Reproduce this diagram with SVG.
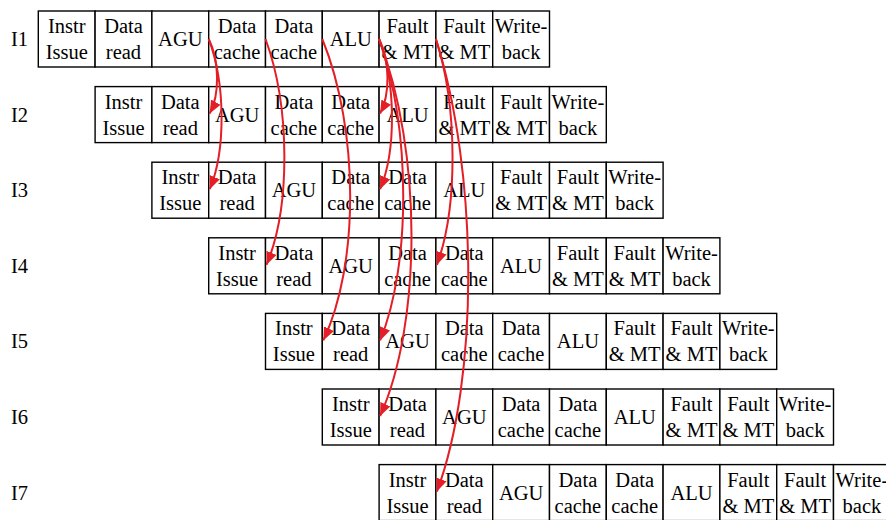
<svg xmlns="http://www.w3.org/2000/svg" width="886" height="520" viewBox="0 0 886 520">
<defs>
<style>
.cell{fill:#fff;stroke:#000;stroke-width:1.4}
text{font-family:"Liberation Serif","Times New Roman",serif;font-size:20.5px;fill:#000}
.t{text-anchor:middle}
.arr{fill:none;stroke:#e41e26;stroke-width:2}
</style>
<marker id="ah" markerUnits="userSpaceOnUse" markerWidth="14" markerHeight="12" refX="13" refY="5.5" orient="auto" viewBox="0 0 14 12">
<path d="M0,0 L13,5.5 L0,11 z" fill="#e41e26"/>
</marker>
</defs>
<rect width="886" height="520" fill="#fff"/>
<g id="labels">
<text x="11" y="46">I1</text>
<text x="11" y="121.6">I2</text>
<text x="11" y="197.2">I3</text>
<text x="11" y="272.8">I4</text>
<text x="11" y="348.4">I5</text>
<text x="11" y="424">I6</text>
<text x="11" y="499.6">I7</text>
</g>
<g id="row1" transform="translate(38.3,11)">
<g id="r1c1" transform="translate(0,0)"><rect class="cell" width="56.8" height="56"/><text class="t" x="28.4" y="22">Instr</text><text class="t" x="28.4" y="48">Issue</text></g>
<g id="r1c2" transform="translate(56.8,0)"><rect class="cell" width="56.8" height="56"/><text class="t" x="28.4" y="22">Data</text><text class="t" x="28.4" y="48">read</text></g>
<g id="r1c3" transform="translate(113.6,0)"><rect class="cell" width="56.8" height="56"/><text class="t" x="28.4" y="35">AGU</text></g>
<g id="r1c4" transform="translate(170.4,0)"><rect class="cell" width="56.8" height="56"/><text class="t" x="28.4" y="22">Data</text><text class="t" x="28.4" y="48">cache</text></g>
<g id="r1c5" transform="translate(227.2,0)"><rect class="cell" width="56.8" height="56"/><text class="t" x="28.4" y="22">Data</text><text class="t" x="28.4" y="48">cache</text></g>
<g id="r1c6" transform="translate(284,0)"><rect class="cell" width="56.8" height="56"/><text class="t" x="28.4" y="35">ALU</text></g>
<g id="r1c7" transform="translate(340.8,0)"><rect class="cell" width="56.8" height="56"/><text class="t" x="28.4" y="22">Fault</text><text class="t" x="28.4" y="48">&amp; MT</text></g>
<g id="r1c8" transform="translate(397.6,0)"><rect class="cell" width="56.8" height="56"/><text class="t" x="28.4" y="22">Fault</text><text class="t" x="28.4" y="48">&amp; MT</text></g>
<g id="r1c9" transform="translate(454.4,0)"><rect class="cell" width="56.8" height="56"/><text class="t" x="28.4" y="22">Write-</text><text class="t" x="28.4" y="48">back</text></g>
</g>
<g id="row2" transform="translate(95.1,86.6)">
<g id="r2c1" transform="translate(0,0)"><rect class="cell" width="56.8" height="56"/><text class="t" x="28.4" y="22">Instr</text><text class="t" x="28.4" y="48">Issue</text></g>
<g id="r2c2" transform="translate(56.8,0)"><rect class="cell" width="56.8" height="56"/><text class="t" x="28.4" y="22">Data</text><text class="t" x="28.4" y="48">read</text></g>
<g id="r2c3" transform="translate(113.6,0)"><rect class="cell" width="56.8" height="56"/><text class="t" x="28.4" y="35">AGU</text></g>
<g id="r2c4" transform="translate(170.4,0)"><rect class="cell" width="56.8" height="56"/><text class="t" x="28.4" y="22">Data</text><text class="t" x="28.4" y="48">cache</text></g>
<g id="r2c5" transform="translate(227.2,0)"><rect class="cell" width="56.8" height="56"/><text class="t" x="28.4" y="22">Data</text><text class="t" x="28.4" y="48">cache</text></g>
<g id="r2c6" transform="translate(284,0)"><rect class="cell" width="56.8" height="56"/><text class="t" x="28.4" y="35">ALU</text></g>
<g id="r2c7" transform="translate(340.8,0)"><rect class="cell" width="56.8" height="56"/><text class="t" x="28.4" y="22">Fault</text><text class="t" x="28.4" y="48">&amp; MT</text></g>
<g id="r2c8" transform="translate(397.6,0)"><rect class="cell" width="56.8" height="56"/><text class="t" x="28.4" y="22">Fault</text><text class="t" x="28.4" y="48">&amp; MT</text></g>
<g id="r2c9" transform="translate(454.4,0)"><rect class="cell" width="56.8" height="56"/><text class="t" x="28.4" y="22">Write-</text><text class="t" x="28.4" y="48">back</text></g>
</g>
<g id="row3" transform="translate(151.9,162.2)">
<g id="r3c1" transform="translate(0,0)"><rect class="cell" width="56.8" height="56"/><text class="t" x="28.4" y="22">Instr</text><text class="t" x="28.4" y="48">Issue</text></g>
<g id="r3c2" transform="translate(56.8,0)"><rect class="cell" width="56.8" height="56"/><text class="t" x="28.4" y="22">Data</text><text class="t" x="28.4" y="48">read</text></g>
<g id="r3c3" transform="translate(113.6,0)"><rect class="cell" width="56.8" height="56"/><text class="t" x="28.4" y="35">AGU</text></g>
<g id="r3c4" transform="translate(170.4,0)"><rect class="cell" width="56.8" height="56"/><text class="t" x="28.4" y="22">Data</text><text class="t" x="28.4" y="48">cache</text></g>
<g id="r3c5" transform="translate(227.2,0)"><rect class="cell" width="56.8" height="56"/><text class="t" x="28.4" y="22">Data</text><text class="t" x="28.4" y="48">cache</text></g>
<g id="r3c6" transform="translate(284,0)"><rect class="cell" width="56.8" height="56"/><text class="t" x="28.4" y="35">ALU</text></g>
<g id="r3c7" transform="translate(340.8,0)"><rect class="cell" width="56.8" height="56"/><text class="t" x="28.4" y="22">Fault</text><text class="t" x="28.4" y="48">&amp; MT</text></g>
<g id="r3c8" transform="translate(397.6,0)"><rect class="cell" width="56.8" height="56"/><text class="t" x="28.4" y="22">Fault</text><text class="t" x="28.4" y="48">&amp; MT</text></g>
<g id="r3c9" transform="translate(454.4,0)"><rect class="cell" width="56.8" height="56"/><text class="t" x="28.4" y="22">Write-</text><text class="t" x="28.4" y="48">back</text></g>
</g>
<g id="row4" transform="translate(208.7,237.8)">
<g id="r4c1" transform="translate(0,0)"><rect class="cell" width="56.8" height="56"/><text class="t" x="28.4" y="22">Instr</text><text class="t" x="28.4" y="48">Issue</text></g>
<g id="r4c2" transform="translate(56.8,0)"><rect class="cell" width="56.8" height="56"/><text class="t" x="28.4" y="22">Data</text><text class="t" x="28.4" y="48">read</text></g>
<g id="r4c3" transform="translate(113.6,0)"><rect class="cell" width="56.8" height="56"/><text class="t" x="28.4" y="35">AGU</text></g>
<g id="r4c4" transform="translate(170.4,0)"><rect class="cell" width="56.8" height="56"/><text class="t" x="28.4" y="22">Data</text><text class="t" x="28.4" y="48">cache</text></g>
<g id="r4c5" transform="translate(227.2,0)"><rect class="cell" width="56.8" height="56"/><text class="t" x="28.4" y="22">Data</text><text class="t" x="28.4" y="48">cache</text></g>
<g id="r4c6" transform="translate(284,0)"><rect class="cell" width="56.8" height="56"/><text class="t" x="28.4" y="35">ALU</text></g>
<g id="r4c7" transform="translate(340.8,0)"><rect class="cell" width="56.8" height="56"/><text class="t" x="28.4" y="22">Fault</text><text class="t" x="28.4" y="48">&amp; MT</text></g>
<g id="r4c8" transform="translate(397.6,0)"><rect class="cell" width="56.8" height="56"/><text class="t" x="28.4" y="22">Fault</text><text class="t" x="28.4" y="48">&amp; MT</text></g>
<g id="r4c9" transform="translate(454.4,0)"><rect class="cell" width="56.8" height="56"/><text class="t" x="28.4" y="22">Write-</text><text class="t" x="28.4" y="48">back</text></g>
</g>
<g id="row5" transform="translate(265.5,313.4)">
<g id="r5c1" transform="translate(0,0)"><rect class="cell" width="56.8" height="56"/><text class="t" x="28.4" y="22">Instr</text><text class="t" x="28.4" y="48">Issue</text></g>
<g id="r5c2" transform="translate(56.8,0)"><rect class="cell" width="56.8" height="56"/><text class="t" x="28.4" y="22">Data</text><text class="t" x="28.4" y="48">read</text></g>
<g id="r5c3" transform="translate(113.6,0)"><rect class="cell" width="56.8" height="56"/><text class="t" x="28.4" y="35">AGU</text></g>
<g id="r5c4" transform="translate(170.4,0)"><rect class="cell" width="56.8" height="56"/><text class="t" x="28.4" y="22">Data</text><text class="t" x="28.4" y="48">cache</text></g>
<g id="r5c5" transform="translate(227.2,0)"><rect class="cell" width="56.8" height="56"/><text class="t" x="28.4" y="22">Data</text><text class="t" x="28.4" y="48">cache</text></g>
<g id="r5c6" transform="translate(284,0)"><rect class="cell" width="56.8" height="56"/><text class="t" x="28.4" y="35">ALU</text></g>
<g id="r5c7" transform="translate(340.8,0)"><rect class="cell" width="56.8" height="56"/><text class="t" x="28.4" y="22">Fault</text><text class="t" x="28.4" y="48">&amp; MT</text></g>
<g id="r5c8" transform="translate(397.6,0)"><rect class="cell" width="56.8" height="56"/><text class="t" x="28.4" y="22">Fault</text><text class="t" x="28.4" y="48">&amp; MT</text></g>
<g id="r5c9" transform="translate(454.4,0)"><rect class="cell" width="56.8" height="56"/><text class="t" x="28.4" y="22">Write-</text><text class="t" x="28.4" y="48">back</text></g>
</g>
<g id="row6" transform="translate(322.3,389)">
<g id="r6c1" transform="translate(0,0)"><rect class="cell" width="56.8" height="56"/><text class="t" x="28.4" y="22">Instr</text><text class="t" x="28.4" y="48">Issue</text></g>
<g id="r6c2" transform="translate(56.8,0)"><rect class="cell" width="56.8" height="56"/><text class="t" x="28.4" y="22">Data</text><text class="t" x="28.4" y="48">read</text></g>
<g id="r6c3" transform="translate(113.6,0)"><rect class="cell" width="56.8" height="56"/><text class="t" x="28.4" y="35">AGU</text></g>
<g id="r6c4" transform="translate(170.4,0)"><rect class="cell" width="56.8" height="56"/><text class="t" x="28.4" y="22">Data</text><text class="t" x="28.4" y="48">cache</text></g>
<g id="r6c5" transform="translate(227.2,0)"><rect class="cell" width="56.8" height="56"/><text class="t" x="28.4" y="22">Data</text><text class="t" x="28.4" y="48">cache</text></g>
<g id="r6c6" transform="translate(284,0)"><rect class="cell" width="56.8" height="56"/><text class="t" x="28.4" y="35">ALU</text></g>
<g id="r6c7" transform="translate(340.8,0)"><rect class="cell" width="56.8" height="56"/><text class="t" x="28.4" y="22">Fault</text><text class="t" x="28.4" y="48">&amp; MT</text></g>
<g id="r6c8" transform="translate(397.6,0)"><rect class="cell" width="56.8" height="56"/><text class="t" x="28.4" y="22">Fault</text><text class="t" x="28.4" y="48">&amp; MT</text></g>
<g id="r6c9" transform="translate(454.4,0)"><rect class="cell" width="56.8" height="56"/><text class="t" x="28.4" y="22">Write-</text><text class="t" x="28.4" y="48">back</text></g>
</g>
<g id="row7" transform="translate(379.1,464.6)">
<g id="r7c1" transform="translate(0,0)"><rect class="cell" width="56.8" height="56"/><text class="t" x="28.4" y="22">Instr</text><text class="t" x="28.4" y="48">Issue</text></g>
<g id="r7c2" transform="translate(56.8,0)"><rect class="cell" width="56.8" height="56"/><text class="t" x="28.4" y="22">Data</text><text class="t" x="28.4" y="48">read</text></g>
<g id="r7c3" transform="translate(113.6,0)"><rect class="cell" width="56.8" height="56"/><text class="t" x="28.4" y="35">AGU</text></g>
<g id="r7c4" transform="translate(170.4,0)"><rect class="cell" width="56.8" height="56"/><text class="t" x="28.4" y="22">Data</text><text class="t" x="28.4" y="48">cache</text></g>
<g id="r7c5" transform="translate(227.2,0)"><rect class="cell" width="56.8" height="56"/><text class="t" x="28.4" y="22">Data</text><text class="t" x="28.4" y="48">cache</text></g>
<g id="r7c6" transform="translate(284,0)"><rect class="cell" width="56.8" height="56"/><text class="t" x="28.4" y="35">ALU</text></g>
<g id="r7c7" transform="translate(340.8,0)"><rect class="cell" width="56.8" height="56"/><text class="t" x="28.4" y="22">Fault</text><text class="t" x="28.4" y="48">&amp; MT</text></g>
<g id="r7c8" transform="translate(397.6,0)"><rect class="cell" width="56.8" height="56"/><text class="t" x="28.4" y="22">Fault</text><text class="t" x="28.4" y="48">&amp; MT</text></g>
<g id="r7c9" transform="translate(454.4,0)"><rect class="cell" width="56.8" height="56"/><text class="t" x="28.4" y="22">Write-</text><text class="t" x="28.4" y="48">back</text></g>
</g>
<g id="connectors" class="arr" marker-end="url(#ah)">
<path d="M208.7,39 C219.7,61 219.7,95 209.7,113.6"/>
<path d="M208.7,39 C225.7,84 225.7,151 209.7,189.2"/>
<path d="M265.5,39 C290.5,107 290.5,208 266.5,264.8"/>
<path d="M322.3,39 C359.3,130 359.3,265 323.3,340.4"/>
<path d="M379.1,39 C390.1,61 390.1,95 380.1,113.6"/>
<path d="M379.1,39 C396.1,84 396.1,151 380.1,189.2"/>
<path d="M379.1,39 C411.1,130 411.1,265 380.1,340.4"/>
<path d="M379.1,39 C422.1,152 422.1,322 380.1,416"/>
<path d="M435.9,39 C457.9,107 457.9,208 436.9,264.8"/>
<path d="M435.9,39 C478.9,175 478.9,379 436.9,491.6"/>
</g>
</svg>
